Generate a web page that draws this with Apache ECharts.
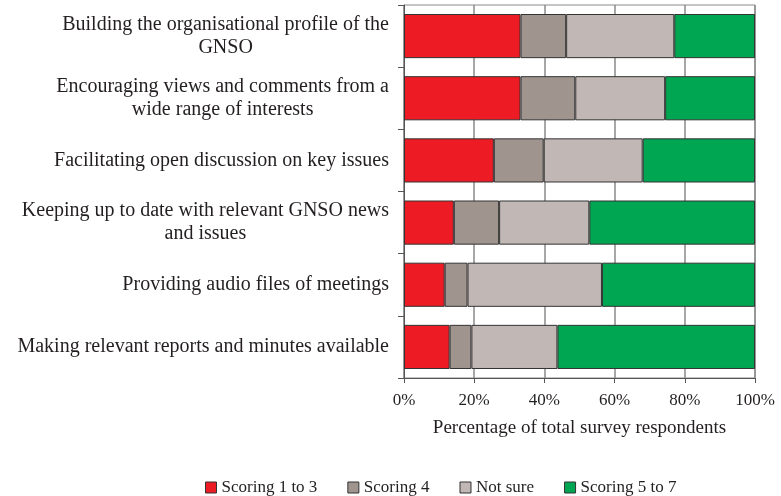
<!DOCTYPE html>
<html>
<head>
    <meta charset="UTF-8">
    <title>GNSO survey</title>
    <style>
        body { margin: 0; background: #fff; }
        #chart { width: 781px; height: 496px; }
    </style>
</head>
<body>
    <div id="chart"></div>
    <script src="https://cdn.jsdelivr.net/npm/echarts@6/dist/echarts.min.js"></script>
    <script>
        // categories, top to bottom
        const categories = [
            'Building the organisational profile of the\nGNSO',
            'Encouraging views and comments from a\nwide range of interests',
            'Facilitating open discussion on key issues',
            'Keeping up to date with relevant GNSO news\nand issues',
            'Providing audio files of meetings',
            'Making relevant reports and minutes available'
        ];
        // percentage of respondents per group
        const scoring1to3 = [33.2, 33.2, 25.6, 14.2, 11.6, 13.0];
        const scoring4 = [13.0, 15.6, 14.2, 12.9, 6.5, 6.2];
        const notSure = [30.8, 25.6, 28.2, 25.7, 38.3, 24.5];
        const scoring5to7 = [23.0, 25.6, 32.0, 47.2, 43.6, 56.3];

        const seriesNames = ['Scoring 1 to 3', 'Scoring 4', 'Not sure', 'Scoring 5 to 7'];
        const seriesData = [scoring1to3, scoring4, notSure, scoring5to7];
        const colors = ['#ED1C24', '#A0948F', '#C1B8B5', '#00A651'];

        const font = '"Liberation Serif", "DejaVu Serif", serif';
        const textColor = '#231F20';

        const chart = echarts.init(document.getElementById('chart'));
        chart.setOption({
            animation: false,
            textStyle: { fontFamily: font },
            grid: {
                left: 404, right: 26, top: 5, bottom: 118,
                show: true, borderColor: '#8a8a8a', borderWidth: 1
            },
            legend: {
                top: 474,
                left: 200,
                itemWidth: 11,
                itemHeight: 11,
                itemGap: 30,
                textStyle: { fontFamily: font, fontSize: 17, color: textColor },
                data: seriesNames.map((n, i) => ({
                    name: n,
                    icon: 'rect',
                    itemStyle: { color: colors[i], borderColor: '#333', borderWidth: 1 }
                }))
            },
            xAxis: {
                type: 'value',
                min: 0, max: 100, interval: 20,
                name: 'Percentage of total survey respondents',
                nameLocation: 'middle',
                nameGap: 41,
                nameTextStyle: { fontFamily: font, fontSize: 19, color: textColor },
                axisLine: { show: true, lineStyle: { color: '#555' } },
                axisTick: { show: true, length: 5, lineStyle: { color: '#555' } },
                axisLabel: {
                    formatter: '{value}%', margin: 14,
                    fontFamily: font, fontSize: 17, color: textColor
                },
                splitLine: { show: true, lineStyle: { color: '#8a8a8a', width: 1.5 } }
            },
            yAxis: {
                type: 'category',
                inverse: true,
                data: categories,
                axisLine: { show: true, lineStyle: { color: '#555' } },
                axisTick: { show: true, length: 6, lineStyle: { color: '#555' } },
                axisLabel: {
                    margin: 15,
                    fontFamily: font, fontSize: 20, color: textColor,
                    lineHeight: 23,
                    formatter: v => v.split('\n').map(s => '{c|' + s + '}').join('\n'),
                    rich: { c: { align: 'center', fontFamily: font, fontSize: 20, color: textColor, lineHeight: 23 } }
                }
            },
            series: seriesNames.map((name, i) => ({
                name: name,
                type: 'bar',
                stack: 'total',
                barCategoryGap: '29%',
                data: seriesData[i],
                itemStyle: { color: colors[i], borderColor: '#333', borderWidth: 1 }
            }))
        });
    </script>
</body>
</html>
